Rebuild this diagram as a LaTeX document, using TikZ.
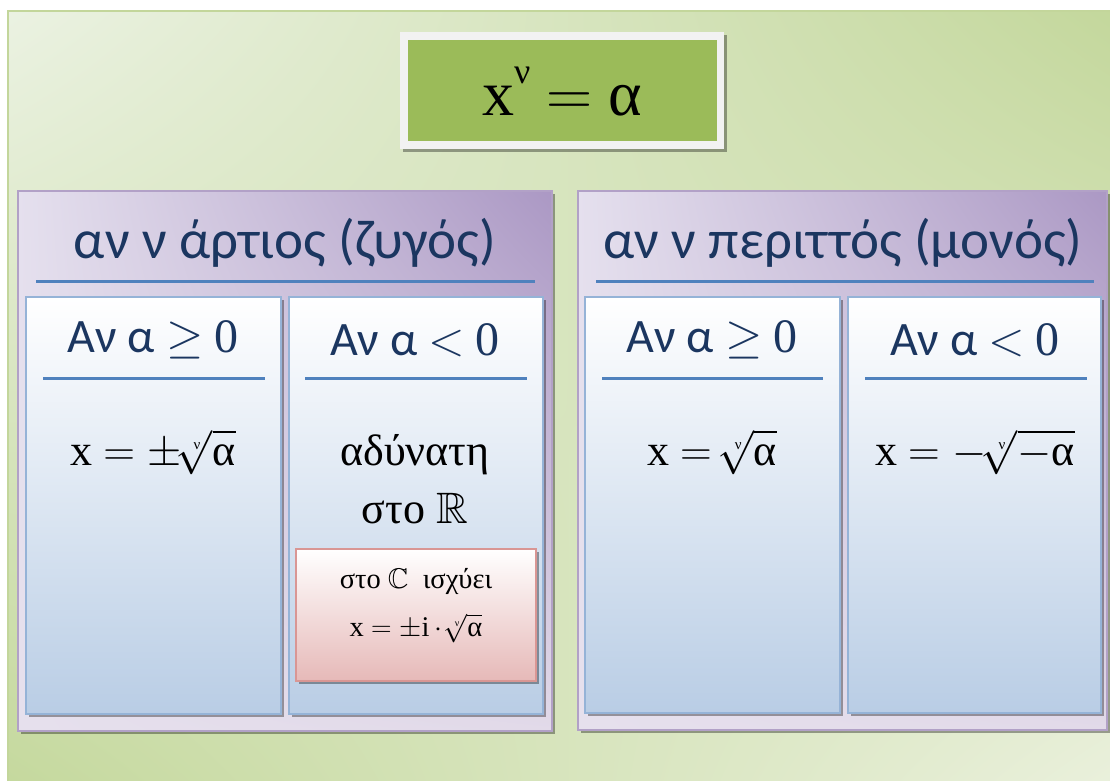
\RequirePackage{fix-cm}
\documentclass[tikz,border=0pt]{standalone}
\usepackage{fontspec}
\usepackage{amssymb}
\setmainfont{Carlito}
\newfontfamily\mf{Liberation Serif}
\usetikzlibrary{shadows,shadings}
\definecolor{bgTL}{HTML}{EBF2E2}
\definecolor{bgTR}{HTML}{C3D79B}
\definecolor{bgBL}{HTML}{C4D89C}
\definecolor{bgBR}{HTML}{EBF1DE}
\definecolor{bgline}{HTML}{C3D69B}
\definecolor{pUL}{HTML}{E5E0EE}
\definecolor{pUR}{HTML}{AB98C4}
\definecolor{pLL}{HTML}{E6E0ED}
\definecolor{pLR}{HTML}{E2DAE9}
\definecolor{pline}{HTML}{B2A1C7}
\definecolor{navy}{HTML}{1B3660}
\definecolor{blueline}{HTML}{4F81BD}
\definecolor{boxbot}{HTML}{B9CDE5}
\definecolor{boxline}{HTML}{95B3D7}
\definecolor{pinkbot}{HTML}{E6B9B8}
\definecolor{pinkline}{HTML}{D99694}
\definecolor{titlegreen}{HTML}{9BBB59}
\definecolor{frame}{HTML}{F2F2F2}
\newcommand\rt[2]{\ensuremath{\sqrt[\hbox{\mf\fontsize{#1}{#1}\selectfont ν}]{\hbox{\mf #2}}}}
\tikzset{
  shbox/.style={inner sep=0pt, outer sep=0pt, anchor=north west},
  sh/.style={drop shadow={shadow xshift=3pt, shadow yshift=-3pt, fill=black, opacity=.35}},
  panel/.style={shbox, sh, draw=pline, line width=2pt, shade,
    upper left=pUL, upper right=pUR, lower left=pLL, lower right=pLR},
  ibox/.style={shbox, sh, draw=boxline, line width=2pt, shade,
    top color=white, bottom color=boxbot},
  pinkbox/.style={shbox, sh, draw=pinkline, line width=2pt, shade,
    top color=white, bottom color=pinkbot},
  hline/.style={draw=blueline, line width=3pt},
  phead/.style={text=navy, font=\fontsize{55}{64}\selectfont},
  bhead/.style={text=navy, font=\fontsize{48}{56}\selectfont},
  mtext/.style={text=black, font=\mf\fontsize{44}{53}\selectfont},
  gtext/.style={text=black, align=center, font=\mf\fontsize{44}{58}\selectfont},
  ptext/.style={text=black, align=center, font=\mf\fontsize{28.5}{44}\selectfont},
}
\begin{document}
\begin{tikzpicture}[x=1pt,y=-1pt]
\useasboundingbox (0,0) rectangle (1110,780);
% background
\node[shbox, draw=bgline, line width=2pt, shade, upper left=bgTL, upper right=bgTR,
  lower left=bgBL, lower right=bgBR, minimum width=1120pt, minimum height=790pt] (bg) at (8,11) {};
% title
\node[shbox, sh, fill=frame, minimum width=324pt, minimum height=117pt] (tframe) at (400,32) {};
\node[shbox, fill=titlegreen, minimum width=309pt, minimum height=101pt] (tgreen) at (408,40) {};
\node[text=black, font=\mf\fontsize{64}{70}\selectfont] (title) at (562,92)
  {x\raisebox{.5em}{\fontsize{36}{36}\selectfont ν} $=$ α};
% panels
\node[panel, minimum width=534pt, minimum height=540pt] (pL) at (18,191) {};
\node[panel, minimum width=529pt, minimum height=539pt] (pR) at (578,191) {};
\node[phead] (hL) at (285,243) {αν ν άρτιος (ζυγός)};
\node[phead] (hR) at (843,243) {αν ν περιττός (μονός)};
\coordinate (lL1) at (36,281); \coordinate (lL2) at (535,281);
\coordinate (lR1) at (596,281); \coordinate (lR2) at (1094,281);
\draw[hline] (lL1) -- (lL2);
\draw[hline] (lR1) -- (lR2);
% inner boxes
\node[ibox, minimum width=255pt, minimum height=417pt] (b1) at (26,297) {};
\node[ibox, minimum width=254pt, minimum height=417pt] (b2) at (289,297) {};
\node[ibox, minimum width=255pt, minimum height=416pt] (b3) at (585,297) {};
\node[ibox, minimum width=253pt, minimum height=416pt] (b4) at (848,297) {};
\node[bhead] (h1) at (153,340) {Αν α $\geq$ {\mf 0}};
\node[bhead] (h2) at (415,340) {Αν α $<$ {\mf 0}};
\node[bhead] (h3) at (712,340) {Αν α $\geq$ {\mf 0}};
\node[bhead] (h4) at (975,340) {Αν α $<$ {\mf 0}};
\coordinate (a1) at (43,378); \coordinate (a2) at (265,378);
\coordinate (c1) at (305,378); \coordinate (c2) at (527,378);
\coordinate (d1) at (602,378); \coordinate (d2) at (823,378);
\coordinate (e1) at (865,378); \coordinate (e2) at (1087,378);
\draw[hline] (a1) -- (a2);
\draw[hline] (c1) -- (c2);
\draw[hline] (d1) -- (d2);
\draw[hline] (e1) -- (e2);
% contents
\node[mtext] (m1) at (153,452) {x $=\pm$\rt{15}{α}};
\node[gtext] (m2) at (415,479) {αδύνατη\\στο $\mathbb{R}$};
\node[mtext] (m3) at (712,452) {x $=$ \rt{15}{α}};
\node[mtext] (m4) at (975,452) {x $=-$\rt{15}{$-$α}};
\node[pinkbox, minimum width=240pt, minimum height=132pt] (pk) at (296,549) {};
\node[ptext] (pkt) at (416,606) {στο $\mathbb{C}$\ \ ισχύει\\[4pt]x $=\pm$i$\,\cdot\,$\rt{10}{α}};
\end{tikzpicture}
\end{document}
